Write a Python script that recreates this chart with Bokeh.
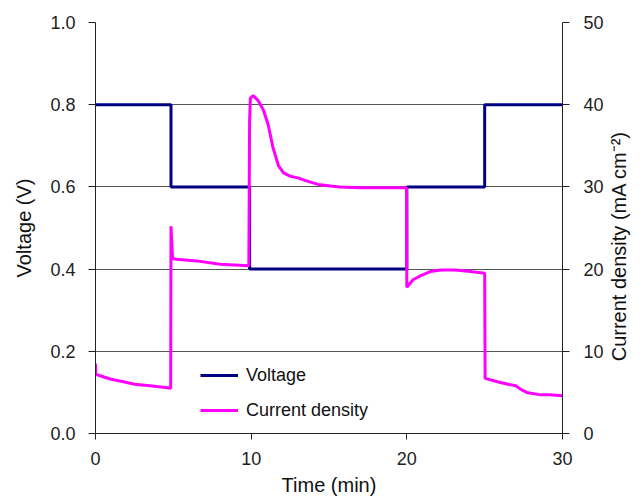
import math
from bokeh.plotting import figure
from bokeh.models import Range1d, LinearAxis, FixedTicker, Legend, CustomJSTickFormatter
from bokeh.embed import file_html
from bokeh.resources import INLINE

# Data
volt_t = [0, 4.85, 4.85, 9.9, 9.9, 20.0, 20.0, 25.0, 25.0, 30]
volt_v = [0.8, 0.8, 0.6, 0.6, 0.4, 0.4, 0.6, 0.6, 0.8, 0.8]

cur_t = [0.0, 0.02, 0.5, 1.0, 1.8, 2.5, 3.5, 4.5, 4.83, 4.85, 4.95, 5.2, 6.5, 8.0, 9.85,
         9.9, 9.95, 10.13, 10.45, 10.8, 11.1, 11.4, 11.75, 12.08, 12.5, 13.0, 13.6, 14.3,
         15.1, 15.7, 17.0, 19.98, 20.0, 20.4, 20.9, 21.5, 22.2, 23.1, 24.1, 25.0, 25.03,
         26.0, 27.0, 27.3, 27.7, 28.6, 29.2, 30.0]
cur_j = [8.5, 7.2, 6.9, 6.6, 6.3, 6.0, 5.8, 5.6, 5.5, 25.2, 21.3, 21.2, 21.0, 20.6, 20.4,
         38.1, 40.8, 41.1, 40.5, 39.3, 37.5, 34.8, 32.6, 31.7, 31.3, 31.1, 30.7, 30.3,
         30.1, 30.0, 29.9, 29.9, 17.8, 18.7, 19.2, 19.7, 19.9, 19.9, 19.7, 19.5, 6.7,
         6.2, 5.8, 5.4, 5.0, 4.7, 4.7, 4.6]

x_ticks = [0, 10, 20, 30]
v_ticks = [0.0, 0.2, 0.4, 0.6, 0.8, 1.0]
j_ticks = [0, 10, 20, 30, 40, 50]

FONT = "Liberation Sans"

p = figure(width=643, height=498, output_backend="svg", toolbar_location=None,
           x_range=Range1d(0, 30), y_range=Range1d(0, 1.0),
           min_border_left=95, min_border_right=81, min_border_top=22, min_border_bottom=64)
p.extra_y_ranges = {"cd": Range1d(0, 50)}
p.outline_line_color = None
p.background_fill_color = "white"
p.border_fill_color = "white"

p.xgrid.visible = False
p.ygrid.ticker = FixedTicker(ticks=v_ticks)
p.ygrid.grid_line_color = "#555555"
p.ygrid.grid_line_width = 1

def style_axis(ax, ticks_out=7):
    ax.axis_line_color = "#222222"
    ax.major_tick_line_color = "#222222"
    ax.major_tick_out = ticks_out
    ax.major_tick_in = 0
    ax.minor_tick_line_color = None
    ax.major_label_text_font = FONT
    ax.major_label_text_font_size = "18px"
    ax.major_label_text_color = "#222222"
    ax.axis_label_text_font = FONT
    ax.axis_label_text_font_size = "20px"
    ax.axis_label_text_font_style = "normal"
    ax.axis_label_text_color = "#111111"

xa = p.xaxis[0]
xa.ticker = FixedTicker(ticks=x_ticks)
xa.axis_label = "Time (min)"
style_axis(xa, 6)
xa.major_label_standoff = 12
xa.axis_label_standoff = 6

ya = p.yaxis[0]
ya.ticker = FixedTicker(ticks=v_ticks)
ya.formatter = CustomJSTickFormatter(code="return tick.toFixed(1);")
ya.axis_label = "Voltage (V)"
style_axis(ya, 7)
ya.major_label_standoff = 13
ya.axis_label_standoff = 12

# right axis: title reads bottom-to-top; it starts at the axis' bottom end,
# so leading no-break spaces move the visible words up to the middle
ra = LinearAxis(y_range_name="cd", ticker=FixedTicker(ticks=j_ticks),
                axis_label="\u00a0" * 13 + "Current density (mA cm\u207b\u00b2)")
style_axis(ra, 7)
ra.major_label_standoff = 14
ra.axis_label_standoff = 12
ra.axis_label_orientation = math.pi / 2
ra.axis_label_align = "start"
p.add_layout(ra, "right")

r_v = p.line(volt_t, volt_v, line_color="#000080", line_width=3)
r_c = p.line(cur_t, cur_j, line_color="#FF00FF", line_width=3, y_range_name="cd")

legend = Legend(items=[("Voltage", [r_v]), ("Current density", [r_c])],
                location=(105, 12), border_line_color=None, background_fill_alpha=0,
                padding=5, spacing=13, glyph_width=38, glyph_height=22, label_height=22,
                label_standoff=8, label_text_font=FONT, label_text_font_size="18px",
                label_text_color="#111111", margin=0)
p.add_layout(legend, "center")

open("out.html", "w").write(file_html(p, INLINE))
